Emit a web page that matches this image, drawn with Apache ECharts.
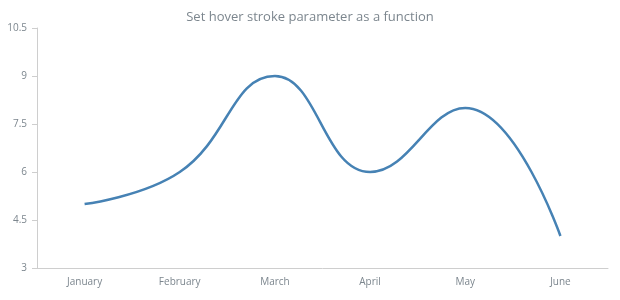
<!DOCTYPE html>
<html><head><meta charset="utf-8">
<script src="https://cdn.jsdelivr.net/npm/echarts@6/dist/echarts.min.js"></script>
<style>html,body{margin:0;padding:0;background:#fff}#c{width:620px;height:300px}</style>
</head><body><div id="c"></div>
<script>
const categories = ['January','February','March','April','May','June'];
const values = [5, 6, 9, 6, 8, 4];
const yTicks = {min: 3, max: 10.5, interval: 1.5};
const chart = echarts.init(document.getElementById('c'));
chart.setOption({
  animation: false,
  title: {text: 'Set hover stroke parameter as a function', left: 'center', top: 6,
    textStyle: {fontFamily: 'Open Sans', fontSize: 13, fontWeight: 'normal', color: '#7c868e'}},
  grid: {left: 37, right: 12, top: 28, bottom: 32},
  xAxis: {type: 'category', data: categories, boundaryGap: true,
    axisLine: {lineStyle: {color: '#cecece'}},
    axisTick: {length: 5, lineStyle: {color: '#cecece'}},
    axisLabel: {color: '#7c868e', fontFamily: 'Open Sans', fontSize: 10, margin: 9}},
  yAxis: {type: 'value', min: yTicks.min, max: yTicks.max, interval: yTicks.interval,
    splitLine: {show: false},
    axisLine: {show: true, lineStyle: {color: '#cecece'}},
    axisTick: {show: true, length: 5, lineStyle: {color: '#cecece'}},
    axisLabel: {color: '#7c868e', fontFamily: 'Open Sans', fontSize: 10, margin: 10}},
  series: [{type: 'line', data: values, smooth: 0.45, symbol: 'none',
    lineStyle: {color: '#4682b4', width: 2.5}}]
});
</script></body></html>
